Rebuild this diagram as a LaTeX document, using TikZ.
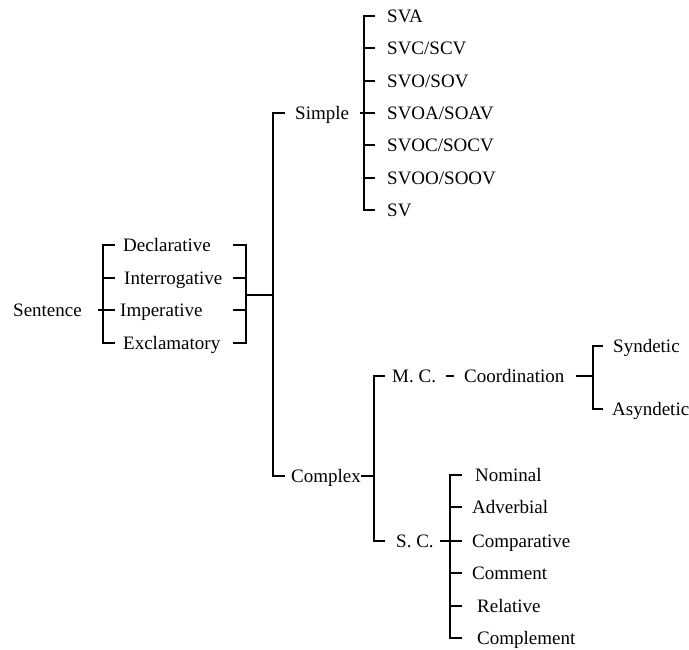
\documentclass[tikz,border=0pt]{standalone}
\usepackage{fontspec}
\setmainfont{Liberation Serif}
\usepackage{tikz}
\usetikzlibrary{positioning}
\usetikzlibrary{calc}
\tikzstyle{branch}=[line width=1.3pt]
\tikzstyle{lbl}=[anchor=west,inner sep=0pt,text height=12.5pt,text depth=0pt,font=\fontsize{19}{22}\selectfont]

\begin{document}
\begin{tikzpicture}[x=1pt,y=-1pt]
    \useasboundingbox (0,0) rectangle (689,649);

    % sentence and its four types
    \node[lbl] (sent) at (13,310) {Sentence};
    \node[lbl] (decl) at (123,245) {Declarative};
    \node[lbl] (inter) at (124,278) {Interrogative};
    \node[lbl] (imper) at (120,310) {Imperative};
    \node[lbl] (excl) at (123,343) {Exclamatory};

    % simple / complex
    \node[lbl] (simple) at (295,113) {Simple};
    \node[lbl] (complex) at (291,476) {Complex};

    % patterns of the simple sentence
    \node[lbl] (sva) at (387,16) {SVA};
    \node[lbl] (svc) at (387,48) {SVC/SCV};
    \node[lbl] (svo) at (387,81) {SVO/SOV};
    \node[lbl] (svoa) at (387,113) {SVOA/SOAV};
    \node[lbl] (svoc) at (387,145) {SVOC/SOCV};
    \node[lbl] (svoo) at (387,178) {SVOO/SOOV};
    \node[lbl] (sv) at (387,210) {SV};

    % main and subordinate clauses
    \node[lbl] (mc) at (392,376) {M. C.};
    \node[lbl] (coord) at (464,376) {Coordination};
    \node[lbl] (synd) at (613,346) {Syndetic};
    \node[lbl] (asynd) at (612,409) {Asyndetic};
    \node[lbl] (sc) at (396,541) {S. C.};
    \node[lbl] (nomin) at (475,475) {Nominal};
    \node[lbl] (adverb) at (472,507) {Adverbial};
    \node[lbl] (compar) at (472,541) {Comparative};
    \node[lbl] (comment) at (472,573) {Comment};
    \node[lbl] (relat) at (477,606) {Relative};
    \node[lbl] (complem) at (477,638) {Complement};

    % x positions of the bracket spines and their tick ends
    \coordinate (spineA) at (103,0);
    \coordinate (tickA) at (115,0);
    \coordinate (startA) at (98,0);
    \coordinate (spineB) at (246,0);
    \coordinate (tickB) at (233,0);
    \coordinate (spineC) at (273,0);
    \coordinate (tickC) at (285,0);
    \coordinate (spineD) at (364,0);
    \coordinate (tickD) at (375,0);
    \coordinate (startD) at (360,0);
    \coordinate (spineE) at (374,0);
    \coordinate (tickE) at (385,0);
    \coordinate (spineF) at (593,0);
    \coordinate (tickF) at (603,0);
    \coordinate (spineG) at (450,0);
    \coordinate (tickG) at (462,0);

    % 1. left bracket of the types
    \draw[branch] (decl.west -| tickA) -- (decl.west -| spineA) -- (excl.west -| spineA) -- (excl.west -| tickA);
    \draw[branch] (inter.west -| spineA) -- (inter.west -| tickA);
    \draw[branch] (sent.west -| startA) -- (imper.west -| tickA);

    % 2. right bracket joining the types
    \draw[branch] (decl.west -| tickB) -- (decl.west -| spineB) -- (excl.west -| spineB) -- (excl.west -| tickB);
    \draw[branch] (inter.west -| tickB) -- (inter.west -| spineB);
    \draw[branch] (imper.west -| tickB) -- (imper.west -| spineB);
    \coordinate (join) at (246,295);
    \draw[branch] (join) -- (join -| spineC);

    % 3. simple / complex bracket
    \draw[branch] (simple.west -| tickC) -- (simple.west -| spineC) -- (complex.west -| spineC) -- (complex.west -| tickC);

    % 4. patterns bracket
    \draw[branch] (sva.west -| tickD) -- (sva.west -| spineD) -- (sv.west -| spineD) -- (sv.west -| tickD);
    \draw[branch] (svc.west -| spineD) -- (svc.west -| tickD);
    \draw[branch] (svo.west -| spineD) -- (svo.west -| tickD);
    \draw[branch] (simple.west -| startD) -- (svoa.west -| tickD);
    \draw[branch] (svoc.west -| spineD) -- (svoc.west -| tickD);
    \draw[branch] (svoo.west -| spineD) -- (svoo.west -| tickD);

    % 5. M. C. / S. C. bracket
    \draw[branch] (mc.west -| tickE) -- (mc.west -| spineE) -- (sc.west -| spineE) -- (sc.west -| tickE);
    \draw[branch] (complex.east) ++(0,0) -- (complex.west -| spineE);
    \draw[branch] ([xshift=10pt]mc.east) -- ([xshift=-10pt]coord.west);

    % 6. syndetic / asyndetic
    \draw[branch] ([xshift=11pt]coord.east) -- (coord.west -| spineF);
    \draw[branch] (synd.west -| tickF) -- (synd.west -| spineF) -- (asynd.west -| spineF) -- (asynd.west -| tickF);

    % 7. kinds of subordinate clause
    \draw[branch] (nomin.west -| tickG) -- (nomin.west -| spineG) -- (complem.west -| spineG) -- (complem.west -| tickG);
    \draw[branch] ([xshift=6pt]sc.east) -- (compar.west -| tickG);
    \draw[branch] (adverb.west -| spineG) -- (adverb.west -| tickG);
    \draw[branch] (comment.west -| spineG) -- (comment.west -| tickG);
    \draw[branch] (relat.west -| spineG) -- (relat.west -| tickG);
\end{tikzpicture}
\end{document}
